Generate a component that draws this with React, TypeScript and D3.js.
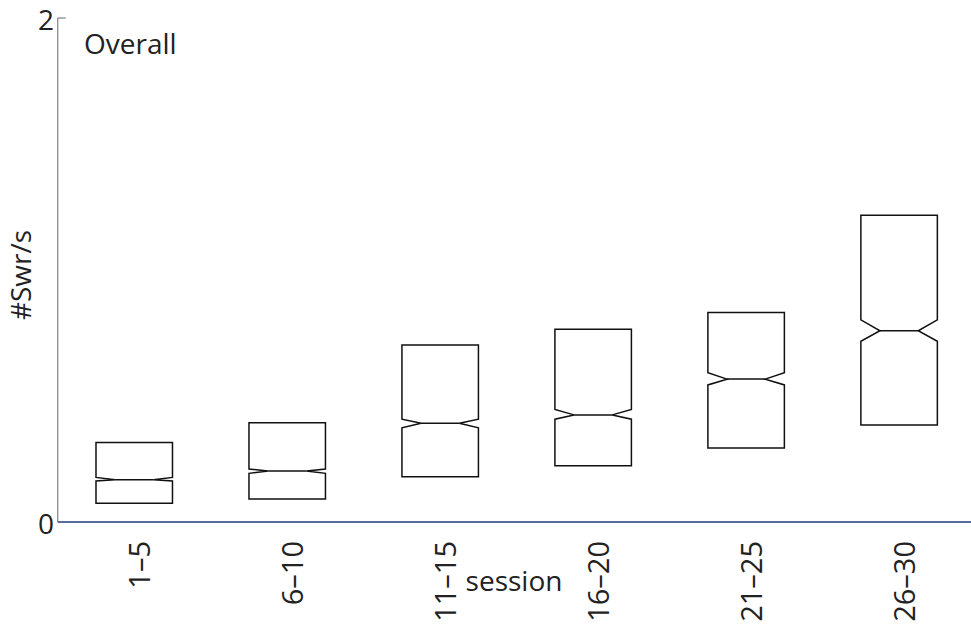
import React from "react";
import * as d3 from "d3";

// Session groups and notched box statistics (#Swr/s)
const sessions = ["1–5", "6–10", "11–15", "16–20", "21–25", "26–30"];
const q1 = [0.074, 0.091, 0.18, 0.223, 0.294, 0.385];
const q3 = [0.315, 0.394, 0.702, 0.765, 0.831, 1.217];
const medians = [0.168, 0.202, 0.392, 0.425, 0.567, 0.759];
const notchLo = [0.163, 0.193, 0.374, 0.408, 0.544, 0.717];
const notchHi = [0.177, 0.21, 0.408, 0.447, 0.592, 0.802];
const yTicks = [0, 2];

const W = 971;
const H = 630;
const FONT = "'Open Sans', sans-serif";

export default function App() {
  const x = d3.scaleLinear().domain([0.5, sessions.length + 0.5]).range([57.75, 975.6]);
  const y = d3.scaleLinear().domain([0, 2]).range([522, 18]);
  const boxW = x(1.25) - x(1);
  const inset = boxW / 2;

  const boxPath = (i: number) => {
    const cx = x(i + 1);
    const l = cx - boxW;
    const r = cx + boxW;
    const p = d3.path();
    p.moveTo(l, y(q3[i]));
    p.lineTo(r, y(q3[i]));
    p.lineTo(r, y(notchHi[i]));
    p.lineTo(r - inset, y(medians[i]));
    p.lineTo(r, y(notchLo[i]));
    p.lineTo(r, y(q1[i]));
    p.lineTo(l, y(q1[i]));
    p.lineTo(l, y(notchLo[i]));
    p.lineTo(l + inset, y(medians[i]));
    p.lineTo(l, y(notchHi[i]));
    p.closePath();
    return p.toString();
  };

  return (
    <svg
      width={W}
      height={H}
      style={{ position: "absolute", left: 0, top: 0, background: "#fff" }}
      fontFamily={FONT}
    >
      {/* y axis */}
      <line x1={x(0.5)} x2={x(0.5)} y1={y(2)} y2={y(0)} stroke="#808080" strokeWidth={1.2} />
      <line x1={x(0.5)} x2={x(0.5) + 8} y1={y(2)} y2={y(2)} stroke="#808080" strokeWidth={1.2} />
      {yTicks.map((t) => (
        <text key={t} x={54} y={y(t) + 12} textAnchor="end" fontSize={28} fill="#222">
          {t}
        </text>
      ))}
      <text
        transform={`translate(31, 275) rotate(-90)`}
        textAnchor="middle"
        fontSize={28}
        fill="#222"
      >
        #Swr/s
      </text>

      {/* notched boxes with median lines */}
      {sessions.map((s, i) => (
        <g key={s}>
          <path d={boxPath(i)} fill="none" stroke="#111" strokeWidth={1.5} strokeLinejoin="miter" />
          <line
            x1={x(i + 1) - boxW + inset}
            x2={x(i + 1) + boxW - inset}
            y1={y(medians[i])}
            y2={y(medians[i])}
            stroke="#111"
            strokeWidth={1.5}
          />
        </g>
      ))}

      {/* x axis */}
      <line x1={x(0.5)} x2={W} y1={y(0)} y2={y(0)} stroke="#5b6a9c" strokeWidth={1.8} />
      {sessions.map((s, i) => (
        <text
          key={s}
          transform={`translate(${x(i + 1) + 16}, 541) rotate(-90)`}
          textAnchor="end"
          fontSize={29}
          fill="#222"
        >
          {s}
        </text>
      ))}
      <text x={514} y={591} textAnchor="middle" fontSize={28} fill="#222">
        session
      </text>

      <text x={84} y={54} fontSize={28} fill="#222">
        Overall
      </text>
    </svg>
  );
}
